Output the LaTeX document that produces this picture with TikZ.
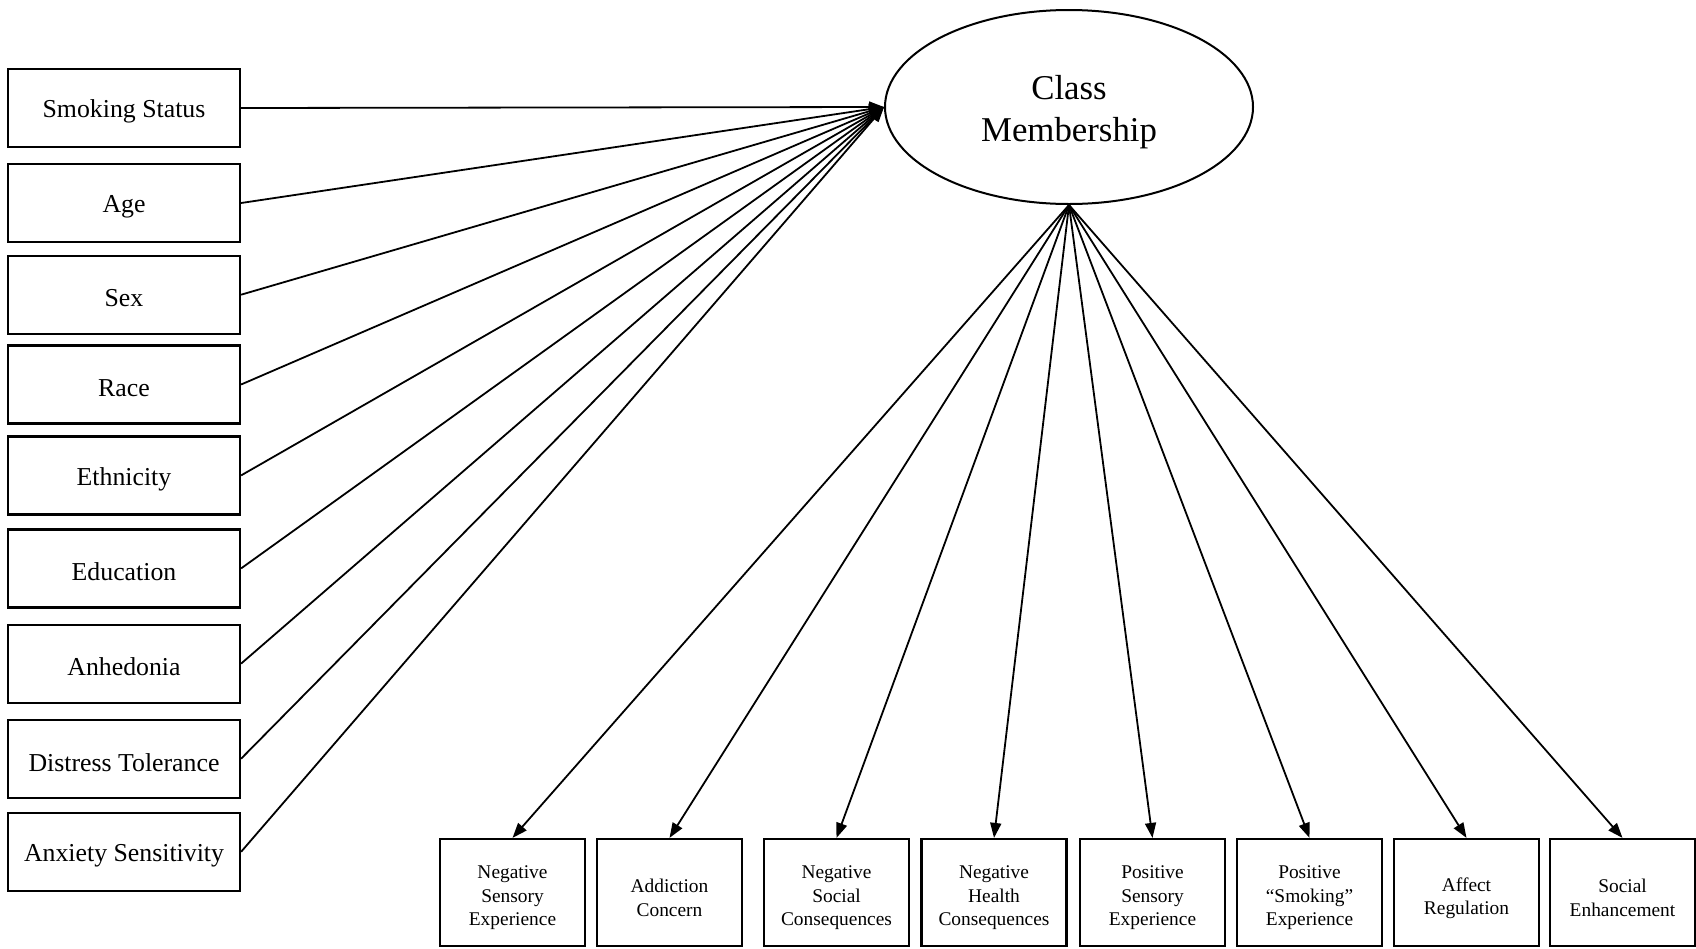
\documentclass[tikz,border=0pt]{standalone}
\usepackage{fontspec}
\setmainfont{Liberation Serif}
\usetikzlibrary{shapes.geometric,arrows.meta}
\tikzset{
  leftbox/.style={draw, line width=2.2pt, minimum width=232pt, minimum height=78pt, inner sep=0pt},
  lefttext/.style={inner sep=0pt, yshift=-3.5pt, font=\fontsize{25.8}{30}\selectfont},
  botbox/.style={draw, line width=2.2pt, minimum width=145pt, minimum height=107pt, inner sep=0pt},
  bottext/.style={inner sep=0pt, yshift=-5.4pt, align=center, font=\fontsize{19.4}{23.3}\selectfont},
  latent/.style={draw, ellipse, line width=2pt, minimum width=368pt, minimum height=194pt, inner sep=0pt},
  latenttext/.style={inner sep=0pt, yshift=-5.4pt, align=center, font=\fontsize{34.8}{42}\selectfont},
  path/.style={line width=1.8pt, -{Triangle[length=15pt,width=11pt]}}
}
\begin{document}
\begin{tikzpicture}[x=1pt,y=-1pt]
\useasboundingbox (0,0) rectangle (1696,948);
\node[latent, label={[latenttext]center:{Class\\Membership}}] (cm) at (1069,107) {};
\node[leftbox, label={[lefttext]center:Smoking Status}] (smk) at (124,108) {};
\node[leftbox, label={[lefttext]center:Age}] (age) at (124,203) {};
\node[leftbox, label={[lefttext]center:Sex}] (sex) at (124,294.7) {};
\node[leftbox, label={[lefttext]center:Race}] (race) at (124,384.5) {};
\node[leftbox, label={[lefttext]center:Ethnicity}] (eth) at (124,475.4) {};
\node[leftbox, label={[lefttext]center:Education}] (edu) at (124,568.4) {};
\node[leftbox, label={[lefttext]center:Anhedonia}] (anh) at (124,663.6) {};
\node[leftbox, label={[lefttext]center:Distress Tolerance}] (dt) at (124,758.7) {};
\node[leftbox, label={[lefttext]center:Anxiety Sensitivity}] (as) at (124,851.8) {};
\node[botbox, label={[bottext]center:{Negative\\Sensory\\Experience}}] (nse) at (512.5,892.5) {};
\node[botbox, label={[bottext]center:{Addiction\\Concern}}] (ac) at (669.5,892.5) {};
\node[botbox, label={[bottext]center:{Negative\\Social\\Consequences}}] (nsc) at (836.5,892.5) {};
\node[botbox, label={[bottext]center:{Negative\\Health\\Consequences}}] (nhc) at (994,892.5) {};
\node[botbox, label={[bottext]center:{Positive\\Sensory\\Experience}}] (pse) at (1152.5,892.5) {};
\node[botbox, label={[bottext]center:{Positive\\“Smoking”\\Experience}}] (psm) at (1309.5,892.5) {};
\node[botbox, label={[bottext]center:{Affect\\Regulation}}] (ar) at (1466.5,892.5) {};
\node[botbox, label={[bottext]center:{Social\\Enhancement}}] (se) at (1622.5,892.5) {};
\foreach \n in {smk,age,sex,race,eth,edu,anh,dt,as}
  \draw[path] (\n.east) -- (cm.west);
\foreach \n in {nse,ac,nsc,nhc,pse,psm,ar,se}
  \draw[path] (cm.south) -- (\n.north);
\end{tikzpicture}
\end{document}
